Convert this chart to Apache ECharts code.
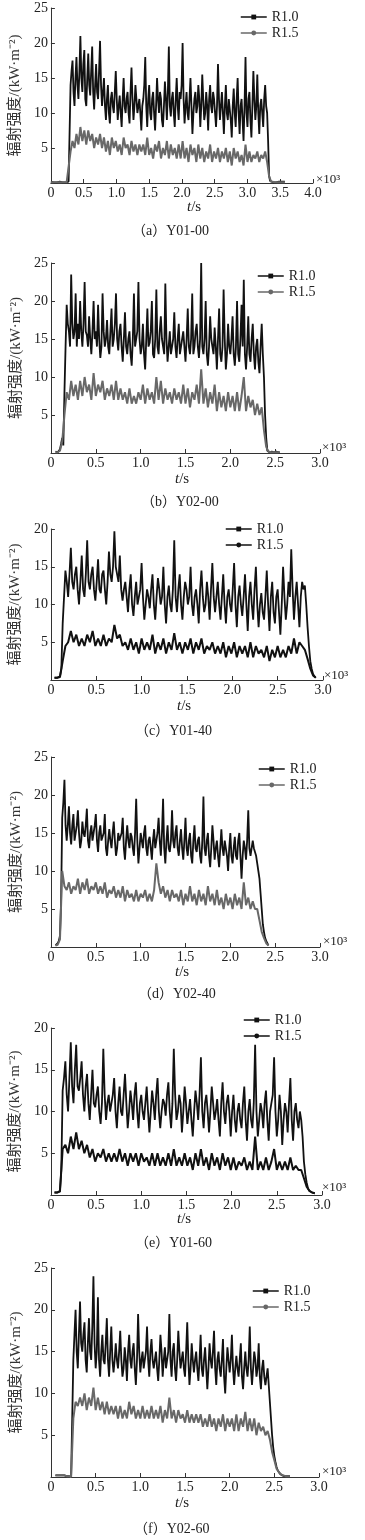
<!DOCTYPE html>
<html>
<head>
<meta charset="utf-8">
<script src="https://cdn.jsdelivr.net/npm/echarts/dist/echarts.min.js"></script>
<style>
  html, body { margin: 0; padding: 0; background: #fff; }
  #chart { width: 365px; height: 1540px; }
</style>
</head>
<body>
<div id="chart"></div>
<script>
// each series: first sample time and sampling step (×10³ s), then values (kW·m⁻²)

// (a) Y01-00
const a10_t0 = 0, a10_dt = 0.015;
const a_r10 = [
  0.2,0.1,0.2,0.1,0.2,0.2,0.1,0.2,0.1,0.2,0.1,0.2,0.1,0.2,0.2,0.1,0.2,0.1,0.2,0.2,
  14,16,17.5,13,11,15,18,14,12,16,21,15,13,17,19,12,11,15,18.5,14,12.5,16,19.5,13,10.5,14,17,13,12,16,20.3,14,11,
  13,
  15,11,9,12,14,10,8.5,12,13,11,10,13,16,12,9,11,12.5,10,8,12,15,11,10,12,13,10,8.5,13,16.5,12,9,11,14,12,10,11,12,10,7.5,
  11,
  12,14,18,11,8,12,14,10,9,12,13,10,7.5,11,15,12,10,13,12,9,8,11,14.5,12,9,13,19.5,11,9.5,12,13,10,8,12,15,11,9,13,12,
  14,
  20,12,8.5,11,13,10,9,12,15,11,7,10,12,13,10,11,14,12,8,11,15.5,12,9,10,13,11,7.5,12,14,11,10,13,12,10,8,11,17,12,9,
  11,
  13,10,7,11,14,10,9,12,12,9,6.5,11,13.5,10,8,12,15,10,7,11,12,9,6,11,18,10,8,12,13,9,6.5,11,16,12,9,11,15.5,10,7,11,12,10,8,12,14,11,10,
  6,1,
  0.3,0.1,0.2,0.1,0.2,0.1,0.1,0.2,0.1,0.2,0.1,0.1,0.2,0.1,0.1,0.2
];
const a15_t0 = 0, a15_dt = 0.03;
const a_r15 = [
  0.1,0.1,0.1,0.1,0.1,0.1,0.1,0.1,0.1,0.1,
  4.5,6,5,7,5.5,8,6,7.5,5.5,7.5,6,7,5,6.5,5.5,7,5,
  6.5,4.5,6,4,6.5,5,6,4.5,5.5,4,6.5,5,5.5,4,6,4.5,5.5,4,5.5,4.5,
  5.5,4,6.5,4,5,3.5,5.5,4.5,6,3.5,5,4,6,3.5,5.5,4,5,3.5,5.5,3.5,
  6,3.5,5,3,5.5,4,5,3,5.5,3.5,5,3,4.5,3.5,5.5,3,4.5,3.5,5,3,
  4.5,3.5,5,3,4.5,2.5,5,3.5,4.5,3,4,2.5,5.5,3,4.5,3,4,3.5,4.5,3,4,3.5,4.5,3,
  1,
  0.2,0.1,0.1,0.1,0.1,0.1,0.1,0.1
];

// (b) Y02-00
const b10_t0 = 0.05, b10_dt = 0.0125;
const b_r10 = [
  0.2,0.1,0.1,0.3,0.5,1.2,2,1,
  8,14,
  19.5,17,16,14,23.5,17,15,16,21,14,17,15,20,16,14,17,22.5,16,15.5,14,18,15,13,16,20,15,16,14,19.5,15,12.5,14,21,16,14,15,17.5,14,13,16,19,14,15,17,21,15,13.5,16,17,14,12,
  15,
  18.5,14,13,15,16,13,11.5,15,21,14,14,16,22.5,15,13,14,17,13,11,15,19,14,14.5,16,20,13,12.5,15,21.5,14,13,16,18,15,14,13,22.3,15,12,14,16,13,13,15,18.5,14,12.5,15,17,13,14,15,16,
  14,
  12,15,19,14,13,15,21,13,14,16,17,14,12.5,15,25,14,13,15,20,13,11.5,14,18,15,14,13,16.5,14,11,15,19,13,12,14,21.5,15,11,13,17,14,13,15,18,13,11.5,14,20,13,12,15,19.5,14,22.8,13,11,14,18,13,12,15,17,13,11,14,15,12,10.5,14,17,
  13,10,5,2,
  0.3,0.2,0.1,0.1,0.2,0.1,0.1,0.1,0.2,0.1,0.1,0.1
];
const b15_t0 = 0.05, b15_dt = 0.025;
const b_r15 = [
  0.1,0.1,0.3,1.5,
  5,
  8,7,9.5,7.5,9,7,9.5,7.5,10,8,9,7,10.5,7.5,9,8,9.5,7,8.5,7.5,9,7,9.5,7,8.5,7,
  8,6.5,8.5,6.5,7.5,6.5,8,7,9,6.5,8.5,7,8,6.5,10,7,9.5,6.5,8.5,7,8,6.5,8.5,7,8,6.5,9,
  6.5,8.5,6,8,7,9,6.5,11,6.5,8.5,6,8,6.5,9,5.5,8,6,7.5,5.5,8,6,7.5,5.5,8,5.5,7.5,10,5.5,7.5,6,7,5,6.5,5,6,
  3,0.8,
  0.2,0.1,0.1,0.1,0.1,0.1
];

// (c) Y01-40
const c10_t0 = 0.04, c10_dt = 0.015;
const c_r10 = [
  0.3,0.3,0.3,0.3,0.5,1.5,
  7.5,11,
  14.5,13,11,14,17.5,13,12,14,15,12,10,13,16.5,12,11,14,18.5,13,12,14,15,12,10.5,13,16,12,11.5,14,14.5,12,10,13,17,14,13,15,19.7,15,14,13,16.5,12,10.5,12,13,
  11,
  9,12,14,10,8.5,11,13,10,10,12,15.5,11,8,10,12,11,9.5,12,14,10,8,11,13.5,12,10,11,15,10,7.5,11,12.5,10,9,12,18.5,11,9,12,14,10,8,11,13,12,10,11,15,10,8.5,11,12,10,7.5,12,14.5,11,9,10,13,11,8,12,15.5,11,9,
  11,
  13,10,8,11,14,10,7.5,11,12,10,9,12,15.5,10,7,11,12.5,10,8.5,11,14,10,6.5,11,13,10,8,12,15,10,7,10,11.5,9,8,11,14.5,10,6.5,11,13,9,7.5,11,12,9,6,10,15,11,8,10,13,11,17.3,12,8,11,13,10,7,11,13,12,12.5,
  10,7,4.5,2.5,1.5,0.8,0.5,0.3
];
const c15_t0 = 0.04, c15_dt = 0.03;
const c_r15 = [
  0.3,0.3,0.4,
  2.5,
  4.5,5,6.5,5,6,4.5,5.5,4.5,6,5,6.5,4.5,5.5,4.5,6,4.5,5.5,5,7.3,5.5,6,4.5,5,
  4,5.5,4,5,3.5,5.5,4,5,4,6,3.5,5,4,5.5,3.5,5,4,6.2,4,5,3.5,5,4,5.5,3.5,5,4,5.5,3.5,4.5,4,5,3.5,
  4.5,3.5,5,3,4.5,3.5,5,3,4.5,3.5,4.5,3,5,3,4.5,3.5,4,3,4.5,2.5,4,3,4.5,3,4,3,4.5,3.5,5.5,3.5,5,4.5,4,
  2.8,1.5,0.6,0.3
];

// (d) Y02-40
const d10_t0 = 0.05, d10_dt = 0.0125;
const d_r10 = [
  0.2,0.3,0.5,0.8,1.5,6,
  17,19,22,16,14,16,18.5,15,13.5,16,17.5,14,14,16,18,15,13,14,16.5,15,14.5,16,18.2,14,13,15,16,14,15,16,17.5,14,12.5,15,16,14,14,15,17.5,13,12,14,15.5,
  14,
  13,15,16.5,14,12,13,15,14,14,15,17,13,11.5,14,16,14,13,15,14.5,13,12,15,19.5,14,11,13,15,14,13,15,16,13,12,14,14.5,13,11.5,14,15.5,13,13,15,17,14,12,15,19.5,13,11,14,16,13,12.5,14,18,14,13,15,16,
  13,
  12,14,15.5,13,11.5,14,17,13,12,14,15,12,11,14,16,13,12.5,14,14.5,12,11,14,19.8,13,12,14,15,12,10.5,13,16,14,11.5,13,14,12,10.5,13,15.5,13,12,14,14,12,10,13,15,12,11,13,14.5,12,11.5,14,15,12,9,12,14,13,11.5,14,18,13,12,13,14,13,12.5,
  12,11,10,9,7,5,3,2,1.2,0.8,0.5,0.2
];
const d15_t0 = 0.05, d15_dt = 0.025;
const d_r15 = [
  0.2,0.3,1.0,
  10,8,7.5,8.5,7,8,7.5,9,7,8.5,7.5,9,7,8,7.5,8.5,7,8,7,8.5,6.5,7.5,
  7,8,6.5,7.5,6.5,8,6,7.5,6.5,7,6,7.5,6,7,6.5,7.5,6,7,6,7.5,11,8.5,7,8,6.5,7.5,6,7.5,6.5,7,
  6,7.5,5.5,7,6,8,6,7,5.5,7.5,6,7,5.5,8,6,7,5.5,7.5,5.5,6.5,5,7,5.5,6.5,5,7,5.5,6.5,5,8.5,5.5,6.5,5,6,5,
  5,3.5,2,1.2,0.5,0.2
];

// (e) Y01-60
const e10_t0 = 0.04, e10_dt = 0.015;
const e_r10 = [
  0.3,0.3,0.3,0.3,0.5,3,
  12.5,14,16,12,10,14,18.3,13,11,15,18,13,12.5,14,16,12,10,13,14.5,
  11,
  9,12,15,11,10.5,12,13,10,8.5,11,17.5,12,9,11,12,10,10,12,14,10,8,11,13,10,9.5,12,14.5,11,8,10,12.5,11,9,12,13.5,10,8,11,12,
  10,
  9,11,13,10,7.5,10,12.5,11,9,12,14,10,8,10,11.5,11,9.5,12,13.5,10,8,11,17.5,12,9,10,12,11,7.5,10,13,11,8.5,10,11.5,9,7,10,12.5,11,9,12,16.5,10,8,11,12,10,7.5,10,13,11,9,10,11.5,9,7,11,13.5,10,8.5,11,12,10,7,
  10,
  12,9,7.5,10,11,9,8,11,13,9,6.5,10,11.5,9,8,11,18,10,7,9,11,10,8,11,12.5,9,6.5,10,11,12,16.5,10,7,9,12,10,6,9,11,10,7.5,11,14,9,6.5,10,11,9,8,10,9,
  7,4,2.5,1.5,0.8,0.5,0.4,0.3,0.2,0.2
];
const e15_t0 = 0.04, e15_dt = 0.03;
const e_r15 = [
  0.3,0.3,0.4,
  5.5,6,5,7,5.5,7.5,5.5,6.5,5,6,
  4.5,5.5,4,5,4.5,5.5,4,5,4,5,4,5.5,4,5,3.5,5,4,5,3.5,5,
  4,4.5,3.5,5,3.5,5,3.5,4.5,3.5,5,3.5,5.5,3.5,4.5,3.5,5,3.5,4.5,3,5,3.5,5.5,3.5,4.5,3,5,3.5,4.5,3,5,3.5,4.5,3,
  4.5,3,4,3.5,4.5,3,4,3,7,3,4,3,4.5,3,4,5.5,3,4,3,4,3,4.5,3,3.5,3,3,
  2,1,0.5,0.3,0.2
];

// (f) Y02-60
const f10_t0 = 0.05, f10_dt = 0.0125;
const f_r10 = [
  0.2,0.2,0.2,0.2,0.2,0.2,0.2,0.2,0.2,0.1,0.1,0.1,0.1,0,0,0,
  14,17,20,15,13,17,21,16,15,17,18.5,14,12.5,16,19,15,14,18,24,16,13,15,21.5,14,12,15,17,14,13.5,16,19,14,12,15,18,
  14,
  12.5,14,16,14,13,15,17.5,14,12,13,15.5,14,11.5,15,17,14,13,15,16,13,11,14,19.5,15,12.5,14,15,13,14,15,18,14,12,15,16.5,14,13,14,15,13,11.5,14,17,15,12,14,15.5,13,14,15,19.5,14,12,15,16,13,11.5,14,17.5,15,13,14,15,13,12,15,18.5,14,11,13,16,14,12.5,14,15,
  13,
  11.5,14,17,13,12,14,15.5,13,10.5,13,16,14,13,15,17.5,13,11,14,15,13,12,14,16.5,12,10,13,15.5,14,12.5,14,17,13,11,13,14.5,13,12,14,16,12,10.5,13,15,13,12,14,18,13,11,13,15,14,12,13,16,12,10.5,13,14,12,11,12,13,
  11,9,7,5,3.5,2.5,1.8,1.2,0.8,0.6,0.4,0.3,0.2,0.2,0.1,0.1,0.1,0.1,0.1,0.1
];
const f15_t0 = 0.05, f15_dt = 0.025;
const f_r15 = [
  0.2,0.2,0.2,0.2,0.2,0.1,0.1,0,
  7,9,8.5,9.5,8.5,10,8,9.5,8.5,10.7,8,9.5,8,9,7.5,9,7.5,8.5,
  7.5,8.5,7,8.5,7,8,7,9,7.5,8.5,7,8,7,8.5,7,8,7,8.5,7,8,7,8.5,6.5,8,7,9.5,7,8,6.5,8,7,7.5,6.5,8,6.5,7.5,6.5,7.5,
  6.5,7.5,6,7,6,7.5,6,7,5.5,7,6,7.5,5.5,7,6,7,5.5,7.5,5.5,7,6,7.8,5.5,7,5.5,7,5,6.5,5.5,6,5,5.5,
  4.5,3,2,1,0.6,0.3,0.2,0.1,0.1,0.1
];

const seriesNames = ['R1.0', 'R1.5'];
const captions = ['（a）Y01-00', '（b）Y02-00', '（c）Y01-40', '（d）Y02-40', '（e）Y01-60', '（f）Y02-60'];

const BLACK = '#111';
const GRAY = '#686868';
const SERIF = '"Liberation Serif", "Noto Sans CJK SC", serif';

// layout of each small chart (pixels)
const panels = [
  { s10: [a_r10, a10_t0, a10_dt], s15: [a_r15, a15_t0, a15_dt], xMax: 4, yMax: 25, gray: true,
    grid: { left: 44, top: 8, width: 269, height: 175 }, legend: [240, 10], nameGap: 19,
    cap: [177, 232], ts: [195, 208], exp: [316, 180] },
  { s10: [b_r10, b10_t0, b10_dt], s15: [b_r15, b15_t0, b15_dt], xMax: 3, yMax: 25, gray: true,
    grid: { left: 51, top: 263, width: 269, height: 190 }, legend: [257, 269], nameGap: 22,
    cap: [186, 503], ts: [183, 480], exp: [322, 448] },
  { s10: [c_r10, c10_t0, c10_dt], s15: [c_r15, c15_t0, c15_dt], xMax: 3, yMax: 20, gray: false,
    grid: { left: 50, top: 529, width: 273, height: 151 }, legend: [225, 522], nameGap: 22,
    cap: [180, 732], ts: [185, 707], exp: [324, 676] },
  { s10: [d_r10, d10_t0, d10_dt], s15: [d_r15, d15_t0, d15_dt], xMax: 3, yMax: 25, gray: true,
    grid: { left: 51, top: 757, width: 269, height: 190 }, legend: [258, 762], nameGap: 22,
    cap: [183, 995], ts: [183, 973], exp: [323, 942] },
  { s10: [e_r10, e10_t0, e10_dt], s15: [e_r15, e15_t0, e15_dt], xMax: 3, yMax: 20, gray: false,
    grid: { left: 50, top: 1028, width: 272, height: 167 }, legend: [243, 1013], nameGap: 22,
    cap: [180, 1244], ts: [185, 1220], exp: [322, 1188] },
  { s10: [f_r10, f10_t0, f10_dt], s15: [f_r15, f15_t0, f15_dt], xMax: 3, yMax: 25, gray: true,
    grid: { left: 51, top: 1268, width: 268, height: 209 }, legend: [252, 1284], nameGap: 21,
    cap: [179, 1530], ts: [183, 1504], exp: [322, 1472] }
];

function toPairs(vals, t0, dt) {
  return vals.map((v, i) => [+(t0 + i * dt).toFixed(4), v]);
}

const grid = [], xAxis = [], yAxis = [], series = [], legend = [], graphic = [];

panels.forEach((p, i) => {
  const c15 = p.gray ? GRAY : BLACK;
  grid.push(p.grid);
  xAxis.push({
    gridIndex: i, type: 'value', min: 0, max: p.xMax, interval: 0.5,
    axisLine: { lineStyle: { color: '#333', width: 1 } },
    axisTick: { inside: true, length: 4, lineStyle: { color: '#333' } },
    axisLabel: {
      margin: 3, color: '#222', fontFamily: 'Liberation Serif', fontSize: 14,
      formatter: (v) => (v === 0 ? '0' : v.toFixed(1))
    },
    splitLine: { show: false }
  });
  yAxis.push({
    gridIndex: i, type: 'value', min: 0, max: p.yMax, interval: 5,
    name: '辐射强度/(kW·m⁻²)', nameLocation: 'middle', nameRotate: 90, nameGap: p.nameGap,
    nameTextStyle: { fontFamily: SERIF, fontSize: 15, color: '#333' },
    axisLine: { show: true, lineStyle: { color: '#333', width: 1 } },
    axisTick: { inside: true, length: 4, lineStyle: { color: '#333' } },
    axisLabel: {
      margin: 3, color: '#222', fontFamily: 'Liberation Serif', fontSize: 14,
      formatter: (v) => (v === 0 ? '' : String(v))
    },
    splitLine: { show: false }
  });
  series.push({
    name: seriesNames[0], type: 'line', xAxisIndex: i, yAxisIndex: i,
    data: toPairs(p.s10[0], p.s10[1], p.s10[2]),
    showSymbol: false, symbol: 'rect', symbolSize: 5,
    lineStyle: { width: 1.8, color: BLACK, join: 'bevel' }, itemStyle: { color: BLACK },
    silent: true
  });
  series.push({
    name: seriesNames[1], type: 'line', xAxisIndex: i, yAxisIndex: i,
    data: toPairs(p.s15[0], p.s15[1], p.s15[2]),
    showSymbol: false, symbol: 'circle', symbolSize: 5,
    lineStyle: { width: 2, color: c15, join: 'bevel' }, itemStyle: { color: c15 },
    silent: true
  });
  legend.push({
    left: p.legend[0], top: p.legend[1], orient: 'vertical',
    itemWidth: 26, itemHeight: 6, itemGap: 2, padding: 0, selectedMode: false,
    textStyle: { fontFamily: 'Liberation Serif', fontSize: 14, color: '#222' },
    data: [
      { name: seriesNames[0], itemStyle: { color: BLACK }, lineStyle: { color: BLACK, width: 1.5 } },
      { name: seriesNames[1], itemStyle: { color: c15 }, lineStyle: { color: c15, width: 1.5 } }
    ]
  });
  graphic.push({
    type: 'text', left: p.cap[0] - 45, top: p.cap[1] - 8,
    style: { text: captions[i], font: '14px ' + SERIF, fill: '#222' }
  });
  graphic.push({
    type: 'text', left: p.ts[0] - 8, top: p.ts[1] - 8,
    style: {
      text: '{i|t}/s', font: '15px "Liberation Serif"', fill: '#222',
      rich: { i: { fontStyle: 'italic', fontFamily: 'Liberation Serif', fontSize: 15 } }
    }
  });
  graphic.push({
    type: 'text', left: p.exp[0], top: p.exp[1] - 7,
    style: { text: '×10³', font: '13px "Liberation Serif"', fill: '#222' }
  });
});

const chart = echarts.init(document.getElementById('chart'));
chart.setOption({
  animation: false,
  backgroundColor: '#fff',
  grid, xAxis, yAxis, series, legend, graphic
});
</script>
</body>
</html>
